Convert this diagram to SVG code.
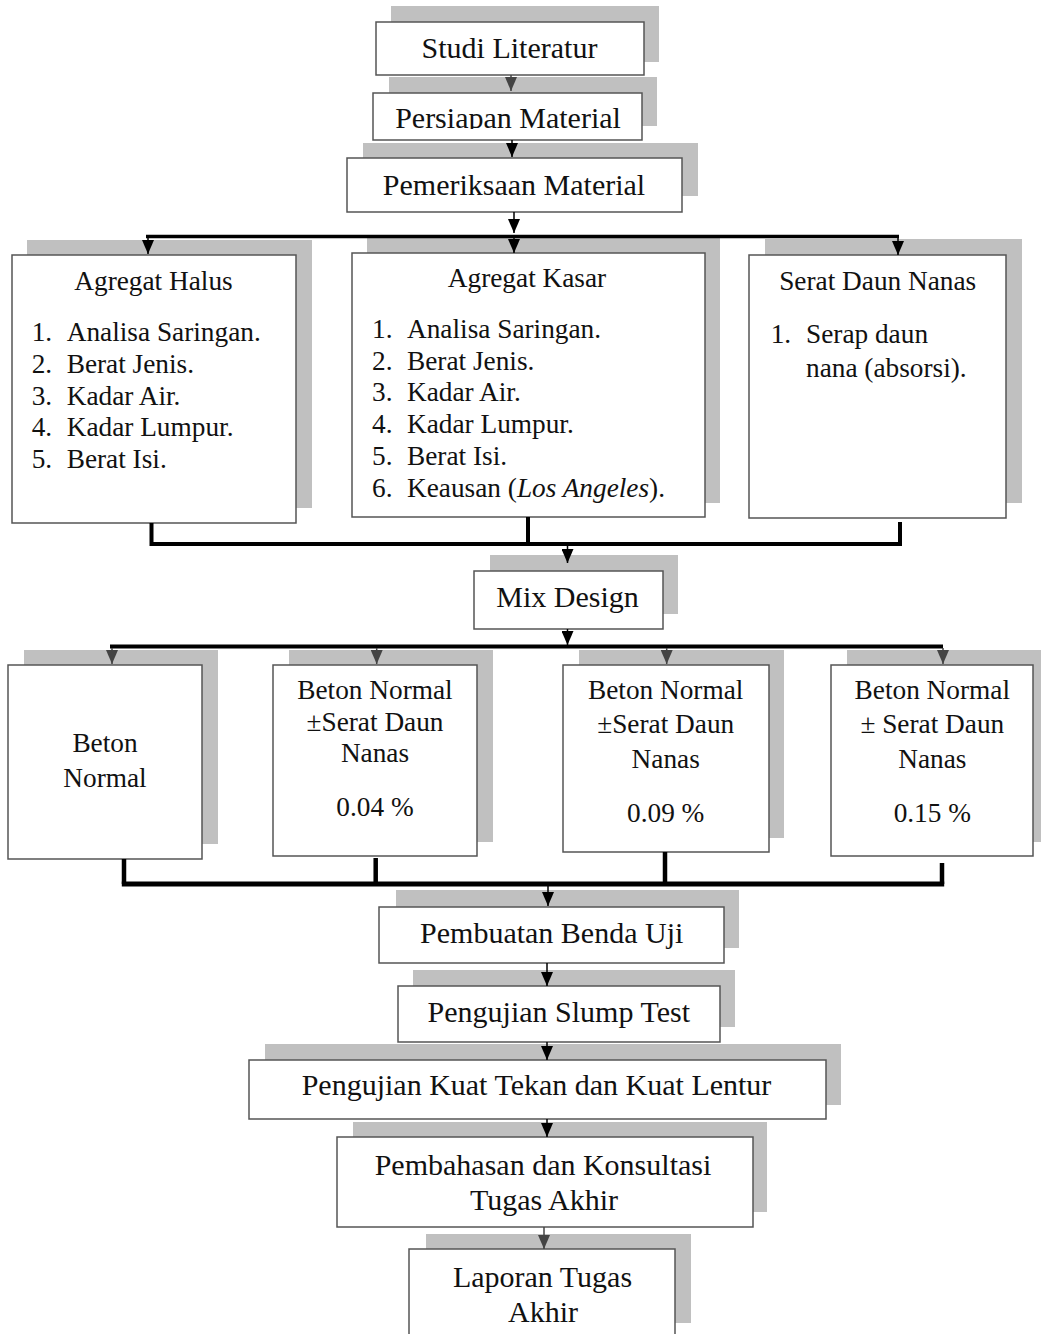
<svg xmlns="http://www.w3.org/2000/svg" width="1041" height="1334" viewBox="0 0 1041 1334">
<style>
.sh{fill:#c0c0c0}
.bx{fill:#fff;stroke:#555;stroke-width:1.5}
.t{font-family:"Liberation Serif","Times New Roman",serif;fill:#111;text-anchor:middle;font-size:30px}
.s{font-family:"Liberation Serif","Times New Roman",serif;fill:#111;text-anchor:middle;font-size:27.3px}
.l{font-family:"Liberation Serif","Times New Roman",serif;fill:#111;font-size:27.3px}
.a{stroke:#000;stroke-width:1.5;fill:none}
.ag{stroke:#444;stroke-width:1.5;fill:none}
.c{stroke:#000;fill:none;stroke-linejoin:miter}
</style>
<defs>
<marker id="ah" viewBox="0 0 14 12" refX="14" refY="6" markerWidth="14" markerHeight="12" markerUnits="userSpaceOnUse" orient="auto"><path d="M0,0 L14,6 L0,12 z" fill="#000"/></marker>
<marker id="ahg" viewBox="0 0 14 12" refX="14" refY="6" markerWidth="14" markerHeight="12" markerUnits="userSpaceOnUse" orient="auto"><path d="M0,0 L14,6 L0,12 z" fill="#444"/></marker>
<clipPath id="cp1"><rect x="373" y="93" width="269" height="36"/></clipPath>
</defs>
<rect width="1041" height="1334" fill="#fff"/>

<g id="studi">
<rect class="sh" x="391" y="6" width="268" height="56"/>
<rect class="bx" x="376" y="22" width="268" height="53"/>
<text class="t" x="509.5" y="57.5">Studi Literatur</text>
</g>
<g id="persiapan">
<rect class="sh" x="389" y="77" width="268" height="49"/>
<rect class="bx" x="373" y="93" width="269" height="47"/>
<text class="t" x="508" y="128" clip-path="url(#cp1)">Persiapan Material</text>
</g>
<g id="pemeriksaan">
<rect class="sh" x="363" y="143" width="335" height="53"/>
<rect class="bx" x="347" y="158" width="335" height="54"/>
<text class="t" x="514" y="195">Pemeriksaan Material</text>
</g>

<g id="halus">
<rect class="sh" x="27" y="240" width="285" height="268"/>
<rect class="bx" x="12" y="255" width="284" height="268"/>
<text class="s" x="153.5" y="290">Agregat Halus</text>
<text class="l"><tspan x="31.7" y="341">1.</tspan><tspan x="66.7" y="341">Analisa Saringan.</tspan></text>
<text class="l"><tspan x="31.7" y="372.8">2.</tspan><tspan x="66.7" y="372.8">Berat Jenis.</tspan></text>
<text class="l"><tspan x="31.7" y="404.6">3.</tspan><tspan x="66.7" y="404.6">Kadar Air.</tspan></text>
<text class="l"><tspan x="31.7" y="436.4">4.</tspan><tspan x="66.7" y="436.4">Kadar Lumpur.</tspan></text>
<text class="l"><tspan x="31.7" y="468.2">5.</tspan><tspan x="66.7" y="468.2">Berat Isi.</tspan></text>
</g>
<g id="kasar">
<rect class="sh" x="367" y="238" width="353" height="265"/>
<rect class="bx" x="352" y="253" width="353" height="264"/>
<text class="s" x="527" y="287">Agregat Kasar</text>
<text class="l"><tspan x="372" y="338">1.</tspan><tspan x="407" y="338">Analisa Saringan.</tspan></text>
<text class="l"><tspan x="372" y="369.7">2.</tspan><tspan x="407" y="369.7">Berat Jenis.</tspan></text>
<text class="l"><tspan x="372" y="401.4">3.</tspan><tspan x="407" y="401.4">Kadar Air.</tspan></text>
<text class="l"><tspan x="372" y="433.1">4.</tspan><tspan x="407" y="433.1">Kadar Lumpur.</tspan></text>
<text class="l"><tspan x="372" y="464.8">5.</tspan><tspan x="407" y="464.8">Berat Isi.</tspan></text>
<text class="l"><tspan x="372" y="496.5">6.</tspan><tspan x="407" y="496.5">Keausan (<tspan font-style="italic">Los Angeles</tspan>).</tspan></text>
</g>
<g id="serat">
<rect class="sh" x="765" y="239" width="257" height="264"/>
<rect class="bx" x="749" y="255" width="257" height="263"/>
<text class="s" x="877.7" y="290">Serat Daun Nanas</text>
<text class="l"><tspan x="770.7" y="343.3">1.</tspan><tspan x="806" y="343.3">Serap daun</tspan></text>
<text class="l"><tspan x="806" y="376.7">nana (absorsi).</tspan></text>
</g>

<g id="mix">
<rect class="sh" x="490" y="555" width="188" height="59"/>
<rect class="bx" x="474" y="571" width="189" height="58"/>
<text class="t" x="567.5" y="606.7">Mix Design</text>
</g>

<g id="beton1">
<rect class="sh" x="24" y="650" width="194" height="194"/>
<rect class="bx" x="8" y="665" width="194" height="194"/>
<text class="s" x="105" y="751.7">Beton</text>
<text class="s" x="105" y="787.3">Normal</text>
</g>
<g id="beton2">
<rect class="sh" x="289" y="650" width="204" height="192"/>
<rect class="bx" x="273" y="665" width="204" height="191"/>
<text class="s" x="375" y="699.3">Beton Normal</text>
<text class="s" x="375" y="730.7">±Serat Daun</text>
<text class="s" x="375" y="761.7">Nanas</text>
<text class="s" x="375" y="816">0.04 %</text>
</g>
<g id="beton3">
<rect class="sh" x="579" y="650" width="205" height="188"/>
<rect class="bx" x="563" y="665" width="206" height="187"/>
<text class="s" x="665.7" y="699.3">Beton Normal</text>
<text class="s" x="665.7" y="733.3">±Serat Daun</text>
<text class="s" x="665.7" y="767.7">Nanas</text>
<text class="s" x="665.7" y="821.7">0.09 %</text>
</g>
<g id="beton4">
<rect class="sh" x="847" y="650" width="202" height="192"/>
<rect class="bx" x="831" y="665" width="202" height="191"/>
<text class="s" x="932.3" y="699.3">Beton Normal</text>
<text class="s" x="932.3" y="733.3">± Serat Daun</text>
<text class="s" x="932.3" y="767.7">Nanas</text>
<text class="s" x="932.3" y="821.7">0.15 %</text>
</g>

<g id="pembuatan">
<rect class="sh" x="396" y="890" width="343" height="58"/>
<rect class="bx" x="379" y="907" width="345" height="56"/>
<text class="t" x="551.7" y="942.7">Pembuatan Benda Uji</text>
</g>
<g id="slump">
<rect class="sh" x="413" y="970" width="322" height="57"/>
<rect class="bx" x="398" y="986" width="322" height="56"/>
<text class="t" x="558.8" y="1021.7">Pengujian Slump Test</text>
</g>
<g id="kuat">
<rect class="sh" x="265" y="1044" width="576" height="61"/>
<rect class="bx" x="249" y="1060" width="577" height="59"/>
<text class="t" x="536.5" y="1095">Pengujian Kuat Tekan dan Kuat Lentur</text>
</g>
<g id="pembahasan">
<rect class="sh" x="353" y="1122" width="414" height="90"/>
<rect class="bx" x="337" y="1137" width="416" height="90"/>
<text class="t" x="543" y="1175">Pembahasan dan Konsultasi</text>
<text class="t" x="544" y="1210">Tugas Akhir</text>
</g>
<g id="laporan">
<rect class="sh" x="426" y="1234" width="265" height="89"/>
<rect class="bx" x="409" y="1249" width="266" height="100"/>
<text class="t" x="542.5" y="1286.7">Laporan Tugas</text>
<text class="t" x="543" y="1321.7">Akhir</text>
</g>

<g id="connectors">
<line class="ag" x1="511" y1="75" x2="511" y2="91" marker-end="url(#ahg)"/>
<line class="a" x1="512" y1="140" x2="512" y2="157" marker-end="url(#ah)"/>
<line class="a" x1="514" y1="212" x2="514" y2="233" marker-end="url(#ah)"/>
<line class="c" stroke-width="3.5" x1="146" y1="236.5" x2="899" y2="236.5"/>
<line class="a" x1="148" y1="238" x2="148" y2="254" marker-end="url(#ah)"/>
<line class="a" x1="514" y1="238" x2="514" y2="253" marker-end="url(#ah)"/>
<line class="a" x1="898" y1="238" x2="898" y2="255" marker-end="url(#ah)"/>
<path class="c" stroke-width="4" d="M151.5,523 V544 H900 V522"/>
<line class="c" stroke-width="4" x1="528" y1="517" x2="528" y2="544"/>
<line class="a" x1="567.5" y1="546" x2="567.5" y2="563" marker-end="url(#ah)"/>
<line class="a" x1="567.5" y1="629" x2="567.5" y2="645" marker-end="url(#ah)"/>
<line class="c" stroke-width="4" x1="110" y1="646.5" x2="943" y2="646.5"/>
<line class="ag" x1="112" y1="648" x2="112" y2="664" marker-end="url(#ahg)"/>
<line class="ag" x1="376.7" y1="648" x2="376.7" y2="664" marker-end="url(#ahg)"/>
<line class="ag" x1="666.7" y1="648" x2="666.7" y2="664" marker-end="url(#ahg)"/>
<line class="ag" x1="943" y1="648" x2="943" y2="664" marker-end="url(#ahg)"/>
<line class="c" stroke-width="4.5" x1="124" y1="859" x2="124" y2="884"/>
<line class="c" stroke-width="4.5" x1="375.7" y1="858" x2="375.7" y2="882"/>
<line class="c" stroke-width="4.5" x1="665" y1="852" x2="665" y2="884"/>
<line class="c" stroke-width="4.5" x1="942" y1="863" x2="942" y2="884"/>
<line class="c" stroke-width="5" x1="121.8" y1="884" x2="944.2" y2="884"/>
<line class="a" x1="548" y1="886" x2="548" y2="906" marker-end="url(#ah)"/>
<line class="a" x1="547" y1="963" x2="547" y2="986" marker-end="url(#ah)"/>
<line class="a" x1="547" y1="1042" x2="547" y2="1060" marker-end="url(#ah)"/>
<line class="a" x1="547" y1="1119" x2="547" y2="1137" marker-end="url(#ah)"/>
<line class="ag" x1="544" y1="1227" x2="544" y2="1249" marker-end="url(#ahg)"/>
</g>
</svg>
